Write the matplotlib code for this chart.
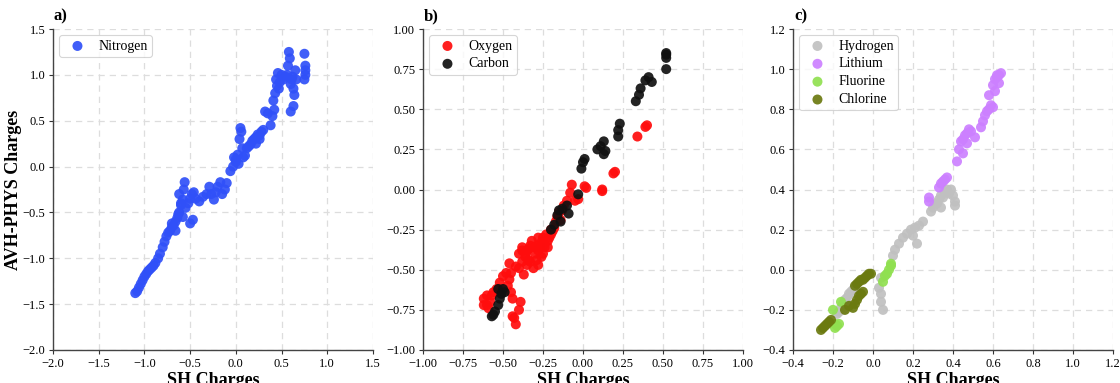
import matplotlib
matplotlib.use("Agg")
import matplotlib.pyplot as plt

plt.rcParams['font.family'] = ['Liberation Serif', 'DejaVu Serif']

# ---- Panel a: Nitrogen ----
n_x = [-1.10, -1.08, -1.06, -1.04, -1.02, -1.00, -0.98, -0.96, -0.94, -0.92, -0.90, -0.88, -0.85,
       -0.83, -0.80, -0.78, -0.76, -0.74, -0.72, -0.70, -0.68, -0.66, -0.64, -0.62, -0.60, -0.58,
       -0.57, -0.56, -0.62, -0.60, -0.55, -0.52, -0.50, -0.48, -0.46, -0.44, -0.50, -0.47, -0.40,
       -0.36, -0.32, -0.29, -0.27, -0.24, -0.22, -0.20, -0.17, -0.15, -0.12, -0.10, -0.06, -0.03,
       -0.02, 0.00, 0.02, 0.04, 0.05, 0.06, 0.07, 0.08, 0.10, 0.12, 0.14, 0.16, 0.18, 0.20, 0.22,
       0.24, 0.26, 0.28, 0.30, 0.32, 0.35, 0.38, 0.40, 0.41, 0.42, 0.43, 0.44, 0.45, 0.46, 0.47,
       0.48, 0.50, 0.52, 0.54, 0.56, 0.57, 0.58, 0.59, 0.60, 0.61, 0.62, 0.63, 0.64, 0.65, 0.66,
       0.60, 0.63, 0.75, 0.76, 0.76, 0.75, 0.76, -0.66, -0.70, -0.63, -0.58, 0.00, 0.03, 0.22, 0.26]
n_y = [-1.38, -1.36, -1.32, -1.28, -1.24, -1.20, -1.17, -1.14, -1.12, -1.10, -1.08, -1.05, -1.00,
       -0.95, -0.88, -0.82, -0.76, -0.72, -0.70, -0.66, -0.64, -0.60, -0.56, -0.50, -0.42, -0.36,
       -0.25, -0.17, -0.30, -0.40, -0.45, -0.40, -0.35, -0.30, -0.28, -0.35, -0.62, -0.58, -0.38,
       -0.33, -0.30, -0.22, -0.30, -0.36, -0.28, -0.22, -0.17, -0.30, -0.25, -0.18, -0.05, 0.00,
       0.10, 0.05, 0.13, 0.30, 0.42, 0.38, 0.20, 0.10, 0.12, 0.20, 0.22, 0.24, 0.28, 0.30, 0.32,
       0.35, 0.34, 0.38, 0.40, 0.60, 0.58, 0.45, 0.55, 0.72, 0.62, 0.80, 0.95, 0.88, 1.02, 0.85,
       0.92, 1.00, 0.95, 0.98, 1.00, 1.10, 1.25, 1.18, 0.90, 0.95, 0.98, 0.85, 0.78, 1.05, 0.95,
       0.60, 0.66, 1.23, 1.10, 1.00, 0.95, 1.05, -0.70, -0.62, -0.52, -0.55, 0.08, 0.03, 0.25, 0.30]

# ---- Panel b: Oxygen, Carbon ----
o_x = [-0.62, -0.60, -0.58, -0.59, -0.56, -0.54, -0.52, -0.50, -0.48, -0.46, -0.45, -0.44, -0.43,
       -0.42, -0.44, -0.40, -0.39, -0.38, -0.40, -0.38, -0.36, -0.35, -0.34, -0.33, -0.32, -0.30,
       -0.29, -0.28, -0.27, -0.26, -0.25, -0.24, -0.23, -0.22, -0.21, -0.20, -0.19, -0.18, -0.17,
       -0.16, -0.15, -0.14, -0.13, -0.12, -0.10, -0.08, -0.07, -0.05, -0.03, 0.01, 0.02, 0.12,
       0.12, 0.19, 0.20, 0.34, 0.39, 0.40, -0.37, -0.31, -0.28, -0.42, -0.46, -0.40,
       -0.38, -0.36, -0.34, -0.30, -0.28, -0.26, -0.24, -0.22, -0.20, -0.33, -0.29, -0.25, -0.35,
       -0.62, -0.60, -0.57, -0.47, -0.45]
o_y = [-0.72, -0.66, -0.70, -0.74, -0.64, -0.62, -0.58, -0.54, -0.52, -0.56, -0.64, -0.68, -0.80,
       -0.84, -0.79, -0.75, -0.70, -0.45, -0.40, -0.36, -0.42, -0.38, -0.44, -0.35, -0.32, -0.40,
       -0.35, -0.30, -0.36, -0.42, -0.30, -0.34, -0.28, -0.32, -0.30, -0.25, -0.26, -0.24, -0.20,
       -0.17, -0.14, -0.19, -0.13, -0.10, -0.07, -0.02, 0.03, -0.07, -0.06, 0.02, 0.01, 0.00,
       -0.01, 0.10, 0.11, 0.33, 0.39, 0.40, -0.53, -0.49, -0.47, -0.48, -0.46, -0.49,
       -0.38, -0.40, -0.37, -0.36, -0.38, -0.33, -0.36, -0.36, -0.28, -0.45, -0.44, -0.40, -0.47,
       -0.68, -0.72, -0.66, -0.60, -0.52]
c_x = [-0.57, -0.56, -0.55, -0.53, -0.52, -0.51, -0.53, -0.50, -0.49, -0.20, -0.18, -0.16, -0.15,
       -0.14, -0.13, -0.10, -0.09, -0.03, -0.01, 0.00, 0.01, 0.09, 0.11, 0.13, 0.14, 0.13, 0.22,
       0.22, 0.23, 0.33, 0.35, 0.36, 0.39, 0.41, 0.43, 0.52, 0.52, 0.52, 0.52]
c_y = [-0.79, -0.78, -0.76, -0.72, -0.68, -0.65, -0.62, -0.62, -0.64, -0.25, -0.22, -0.16, -0.13,
       -0.20, -0.12, -0.10, -0.15, -0.03, 0.13, 0.17, 0.19, 0.25, 0.27, 0.30, 0.24, 0.22, 0.33,
       0.37, 0.41, 0.55, 0.59, 0.63, 0.68, 0.70, 0.67, 0.75, 0.82, 0.85, 0.84]

# ---- Panel c: Hydrogen, Lithium, Fluorine, Chlorine ----
h_x = [-0.18, -0.17, -0.16, -0.15, -0.14, -0.13, -0.12, -0.11, -0.10, -0.09, -0.15, -0.12,
       0.03, 0.04, 0.04, 0.05, 0.04, 0.10, 0.11, 0.13, 0.15, 0.17, 0.19, 0.20, 0.22, 0.21, 0.23,
       0.25, 0.29, 0.30, 0.31, 0.33, 0.34, 0.35, 0.36, 0.37, 0.38, 0.39, 0.40, 0.41, 0.41, 0.34, 0.32]
h_y = [-0.22, -0.21, -0.19, -0.17, -0.15, -0.14, -0.12, -0.11, -0.10, -0.09, -0.20, -0.18,
       -0.09, -0.12, -0.16, -0.20, -0.04, 0.07, 0.10, 0.13, 0.16, 0.18, 0.20, 0.17, 0.13, 0.21, 0.22,
       0.24, 0.29, 0.31, 0.33, 0.35, 0.37, 0.36, 0.39, 0.40, 0.38, 0.40, 0.37, 0.34, 0.32, 0.31, 0.33]
li_x = [0.28, 0.28, 0.33, 0.34, 0.35, 0.36, 0.37, 0.42, 0.43, 0.44, 0.45, 0.46, 0.47, 0.48, 0.49,
        0.51, 0.54, 0.55, 0.56, 0.57, 0.58, 0.59, 0.60, 0.58, 0.61, 0.60, 0.61, 0.62, 0.63, 0.64,
        0.63, 0.62, 0.45, 0.47]
li_y = [0.34, 0.36, 0.41, 0.43, 0.44, 0.45, 0.46, 0.54, 0.60, 0.64, 0.65, 0.67, 0.68, 0.70, 0.69,
        0.66, 0.71, 0.74, 0.77, 0.79, 0.80, 0.82, 0.81, 0.87, 0.89, 0.92, 0.95, 0.96, 0.97, 0.98,
        0.93, 0.97, 0.58, 0.63]
f_x = [-0.20, -0.19, -0.18, -0.19, -0.17, -0.16, 0.05, 0.06, 0.07, 0.08, 0.09, 0.09]
f_y = [-0.20, -0.27, -0.28, -0.29, -0.27, -0.16, -0.06, -0.03, -0.02, 0.00, 0.02, 0.03]
cl_x = [-0.26, -0.25, -0.24, -0.23, -0.22, -0.21, -0.14, -0.12, -0.10, -0.09, -0.08, -0.07,
        -0.06, -0.05, -0.09, -0.08, -0.07, -0.06, -0.05, -0.04, -0.03, -0.02, -0.01]
cl_y = [-0.30, -0.29, -0.28, -0.27, -0.26, -0.25, -0.20, -0.18, -0.19, -0.17, -0.15, -0.13,
        -0.12, -0.11, -0.08, -0.07, -0.06, -0.05, -0.05, -0.04, -0.03, -0.02, -0.02]

panels = [
    ("a)", [("Nitrogen", n_x, n_y, "#3050F8")], (-2.0, 1.5), [-2.0, -1.5, -1.0, -0.5, 0.0, 0.5, 1.0, 1.5], "{:.1f}"),
    ("b)", [("Oxygen", o_x, o_y, "#FF0D0D"), ("Carbon", c_x, c_y, "#111111")], (-1.0, 1.0),
     [-1.0, -0.75, -0.5, -0.25, 0.0, 0.25, 0.5, 0.75, 1.0], "{:.2f}"),
    ("c)", [("Hydrogen", h_x, h_y, "#C0C0C0"), ("Lithium", li_x, li_y, "#CC80FF"),
            ("Fluorine", f_x, f_y, "#90E050"), ("Chlorine", cl_x, cl_y, "#6B7A10")], (-0.4, 1.2),
     [-0.4, -0.2, 0.0, 0.2, 0.4, 0.6, 0.8, 1.0, 1.2], "{:.1f}"),
]

fig = plt.figure(figsize=(11.2, 3.83), dpi=100)
lefts = [53 / 1120, 423 / 1120, 793 / 1120]
for i, (lab, series, lim, ticks, fmt) in enumerate(panels):
    ax = fig.add_axes([lefts[i], 33 / 383, 320 / 1120, 321 / 383])
    for name, xs, ys, col in series:
        ax.scatter(xs, ys, s=52, color=col, alpha=0.92, edgecolors='none', label=name, zorder=3)
    ax.set_xlim(*lim)
    ax.set_ylim(*lim)
    ax.set_xticks(ticks)
    ax.set_yticks(ticks)
    ax.set_xticklabels([fmt.format(t).replace('-', '\u2212') for t in ticks])
    ax.set_yticklabels([fmt.format(t).replace('-', '\u2212') for t in ticks])
    ax.tick_params(labelsize=9, color='#333333', length=3, width=0.8, pad=2.5)
    ax.grid(True, linestyle=(0, (5, 4)), color='#dddddd', linewidth=0.9, zorder=0)
    ax.set_axisbelow(True)
    for s in ['top', 'right']:
        ax.spines[s].set_visible(False)
    for s in ['left', 'bottom']:
        ax.spines[s].set_color('#444444')
        ax.spines[s].set_linewidth(1.0)
    ax.set_xlabel("SH Charges", fontsize=13, fontweight='bold', labelpad=2)
    if i == 0:
        ax.set_ylabel("AVH-PHYS Charges", fontsize=13, fontweight='bold')
        ax.yaxis.set_label_coords(-(53 - 22) / 320, 0.5)
    ax.text(0.003, 1.015, lab, transform=ax.transAxes, fontsize=12, fontweight='bold',
            ha='left', va='bottom')
    leg = ax.legend(loc='upper left', fontsize=10, frameon=True, borderpad=0.3,
                    handletextpad=0.5, labelspacing=0.35, fancybox=True,
                    bbox_to_anchor=(0.02, 0.98), borderaxespad=0.0)
    leg.get_frame().set_edgecolor('#cccccc')
    leg.get_frame().set_linewidth(0.8)

fig.savefig("out.png", dpi=100)
